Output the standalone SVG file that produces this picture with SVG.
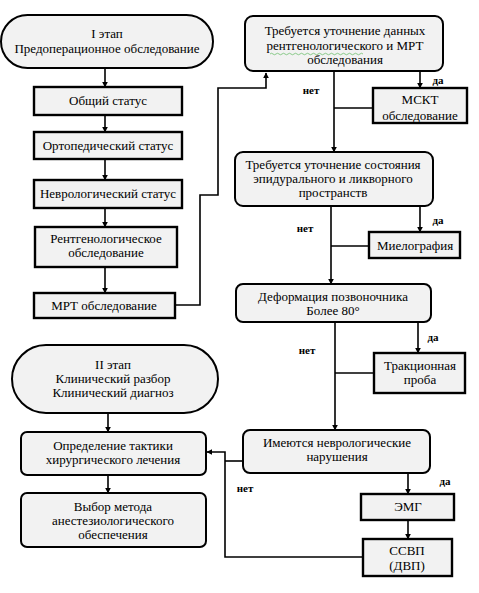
<svg xmlns="http://www.w3.org/2000/svg" width="479" height="593" viewBox="0 0 479 593">
<defs>
<marker id="ah" viewBox="0 0 10 10" refX="9" refY="5" markerWidth="6" markerHeight="6" orient="auto" markerUnits="userSpaceOnUse">
<path d="M0,0 L10,5 L0,10 z" fill="#000"/>
</marker>
<style>
.box{fill:#f2f2f2;stroke:#000;stroke-width:2.4}
.rbox{fill:#f2f2f2;stroke:#000;stroke-width:2}
.t{font-family:'Liberation Serif','Times New Roman',serif;font-size:13px;fill:#000;text-anchor:middle}
.lbl{font-family:'Liberation Serif','Times New Roman',serif;font-size:11px;font-weight:bold;fill:#000;text-anchor:middle}
.c{fill:none;stroke:#000;stroke-width:1.6}
.ca{fill:none;stroke:#000;stroke-width:1.6;marker-end:url(#ah)}
</style>
</defs>
<rect width="479" height="593" fill="#fff"/>

<g id="connectors">
<path class="ca" d="M105,68 V87"/>
<path class="ca" d="M105,115 V132"/>
<path class="ca" d="M105,159 V180"/>
<path class="ca" d="M105,208 V227"/>
<path class="ca" d="M105,267 V293"/>
<path class="ca" d="M175,305 H200 V195 H218 V88 H266 V73"/>
<path class="ca" d="M420,71 V88"/>
<path class="ca" d="M334,71 V152"/>
<path class="c" d="M373,108 H334"/>
<path class="ca" d="M420,206 V232"/>
<path class="ca" d="M331,206 V284"/>
<path class="c" d="M369,246 H331"/>
<path class="ca" d="M418,322 V353"/>
<path class="ca" d="M335,322 V430"/>
<path class="c" d="M374,373 H335"/>
<path class="ca" d="M408,473 V494"/>
<path class="ca" d="M408,520 V539"/>
<path class="c" d="M243,461 H225"/>
<path class="ca" d="M363,557 H225 V452 H207"/>
<path class="ca" d="M108,413 V432"/>
<path class="ca" d="M108,475 V493"/>
<text class="lbl" x="311" y="94">нет</text>
<text class="lbl" x="438" y="84">да</text>
<text class="lbl" x="305" y="232">нет</text>
<text class="lbl" x="438" y="224">да</text>
<text class="lbl" x="307" y="354">нет</text>
<text class="lbl" x="433" y="341">да</text>
<text class="lbl" x="245" y="492">нет</text>
<text class="lbl" x="445" y="485">да</text>
</g>

<g id="stage1">
<rect class="rbox" x="1" y="15" width="212" height="53" rx="26.5"/>
<text class="t" x="107" y="38">I этап</text>
<text class="t" x="107" y="53">Предоперационное обследование</text>
</g>
<g id="general">
<rect class="box" x="34" y="87" width="148" height="28"/>
<text class="t" x="108" y="105">Общий статус</text>
</g>
<g id="ortho">
<rect class="box" x="34" y="132" width="148" height="27"/>
<text class="t" x="108" y="150">Ортопедический статус</text>
</g>
<g id="neuro">
<rect class="box" x="34" y="180" width="148" height="28"/>
<text class="t" x="108" y="198">Неврологический статус</text>
</g>
<g id="xray">
<rect class="box" x="35" y="227" width="142" height="40"/>
<text class="t" x="106" y="243">Рентгенологическое</text>
<text class="t" x="106" y="257">обследование</text>
</g>
<g id="mri">
<rect class="box" x="34" y="293" width="141" height="25"/>
<text class="t" x="104" y="310">МРТ обследование</text>
</g>

<g id="q1">
<rect class="rbox" x="245" y="16" width="198" height="55" rx="8"/>
<text class="t" x="345" y="35">Требуется уточнение данных</text>
<text class="t" x="345" y="50">рентгенологического и МРТ</text>
<path d="M270,54 q1.5,-1.5 3,0 t3,0 t3,0 t3,0 t3,0 t3,0 t3,0 t3,0 t3,0 t3,0 t3,0 t3,0 t3,0 t3,0 t3,0 t3,0 t3,0 t3,0 t3,0 t3,0 t3,0 t3,0 t3,0 t3,0 t3,0 t3,0 t3,0 t3,0 t3,0 t3,0 t3,0" fill="none" stroke="#6fbf6f" stroke-width="0.8"/>
<text class="t" x="345" y="64">обследования</text>
</g>
<g id="msct">
<rect class="box" x="373" y="88" width="94" height="35"/>
<text class="t" x="420" y="104">МСКТ</text>
<text class="t" x="420" y="120">обследование</text>
</g>
<g id="q2">
<rect class="rbox" x="235" y="152" width="198" height="54" rx="8"/>
<text class="t" x="333" y="169">Требуется уточнение состояния</text>
<text class="t" x="333" y="183">эпидурального и ликворного</text>
<text class="t" x="333" y="197">пространств</text>
</g>
<g id="myelo">
<rect class="box" x="369" y="232" width="91" height="26"/>
<text class="t" x="415" y="250">Миелография</text>
</g>
<g id="q3">
<rect class="rbox" x="236" y="284" width="195" height="38" rx="7"/>
<text class="t" x="333" y="301">Деформация позвоночника</text>
<text class="t" x="333" y="315">Более 80°</text>
</g>
<g id="traction">
<rect class="box" x="374" y="353" width="91" height="40"/>
<text class="t" x="420" y="370">Тракционная</text>
<text class="t" x="420" y="384">проба</text>
</g>
<g id="q4">
<rect class="rbox" x="243" y="430" width="187" height="43" rx="7"/>
<text class="t" x="337" y="447">Имеются неврологические</text>
<text class="t" x="337" y="461">нарушения</text>
</g>
<g id="emg">
<rect class="box" x="361" y="494" width="93" height="26"/>
<text class="t" x="408" y="511">ЭМГ</text>
</g>
<g id="ssep">
<rect class="box" x="363" y="539" width="89" height="37"/>
<text class="t" x="407" y="555">ССВП</text>
<text class="t" x="407" y="570">(ДВП)</text>
</g>

<g id="stage2">
<rect class="rbox" x="12" y="345" width="206" height="68" rx="34"/>
<text class="t" x="113" y="369">II этап</text>
<text class="t" x="113" y="383">Клинический разбор</text>
<text class="t" x="113" y="397">Клинический диагноз</text>
</g>
<g id="tactics">
<rect class="rbox" x="21" y="432" width="185" height="43" rx="6"/>
<text class="t" x="113" y="450">Определение тактики</text>
<text class="t" x="113" y="464">хирургического лечения</text>
</g>
<g id="anesth">
<rect class="rbox" x="21" y="493" width="185" height="54" rx="6"/>
<text class="t" x="113" y="511">Выбор метода</text>
<text class="t" x="113" y="525">анестезиологического</text>
<text class="t" x="113" y="539">обеспечения</text>
</g>
</svg>
